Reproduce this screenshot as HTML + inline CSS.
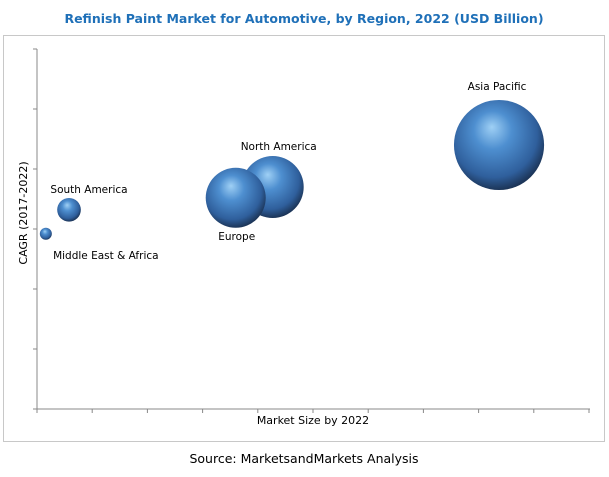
<!DOCTYPE html>
<html><head><meta charset="utf-8"><style>
body{margin:0;background:#fff;width:609px;height:473px;overflow:hidden;font-family:"DejaVu Sans","Liberation Sans",sans-serif}
</style></head><body>
<svg width="609" height="473" xmlns="http://www.w3.org/2000/svg">
<defs>
<radialGradient id="g" cx="0.45" cy="0.4" r="0.6" fx="0.42" fy="0.3">
<stop offset="0" stop-color="#9fd0f5"/><stop offset="0.35" stop-color="#4e8fd0"/><stop offset="0.8" stop-color="#2f5f9c"/><stop offset="1" stop-color="#1c3558"/>
</radialGradient>
</defs>
<text x="304" y="23" text-anchor="middle" font-size="12.5" font-weight="bold" fill="#1f70b8">Refinish Paint Market for Automotive, by Region, 2022 (USD Billion)</text>
<rect x="3.5" y="35.5" width="601" height="406" fill="none" stroke="#c8c8c8"/>
<g id="axes"></g>
<g id="marks"></g>
<text x="313" y="424" text-anchor="middle" font-size="11" fill="#000">Market Size by 2022</text>
<text transform="translate(27,213) rotate(-90)" text-anchor="middle" font-size="11" fill="#000">CAGR (2017-2022)</text>
<text x="304" y="463" text-anchor="middle" font-size="12.5" fill="#000">Source: MarketsandMarkets Analysis</text>
</svg>
<script>
const regions=["Asia Pacific","North America","Europe","South America","Middle East & Africa"];
const marketSize=[8.37,4.27,3.6,0.58,0.16];
const cagr=[4.4,3.7,3.52,3.32,2.92];
const bubbleSize=[20.3,9.6,9.0,1.4,0.36];
const labelDx=[-2,6,1,20,60];
const labelDy=[-55,-37,42,-17,25];
const ns="http://www.w3.org/2000/svg";
const X0=37,X1=589,Y0=409,Y1=49;
const xs=v=>X0+v/10*(X1-X0);
const ys=v=>Y0-v/6*(Y0-Y1);
const rs=s=>10*Math.sqrt(s);
const ax=document.getElementById('axes'),mk=document.getElementById('marks');
function el(t,a,p){const e=document.createElementNS(ns,t);for(const k in a)e.setAttribute(k,a[k]);p.appendChild(e);return e;}
const ya=el('line',{x1:X0,y1:Y1,x2:X0,y2:Y0,stroke:'#888'},ax);


const xa=el('line',{x1:X0,y1:Y0,x2:X1+1,y2:Y0,stroke:'#888'},ax);


for(let i=0;i<=6;i++){const t=el('line',{x1:X0-4,y1:ys(i),x2:X0,y2:ys(i),stroke:'#888'},ax);

}
for(let i=0;i<=10;i++){const t=el('line',{x1:xs(i),y1:Y0,x2:xs(i),y2:Y0+4,stroke:'#888'},ax);

}
regions.forEach((r,i)=>{
const cx=xs(marketSize[i]),cy=ys(cagr[i]);
const c=el('circle',{cx:cx,cy:cy,r:rs(bubbleSize[i]),fill:'url(#g)'},mk);


const t=el('text',{x:cx+labelDx[i],y:cy+labelDy[i],'text-anchor':'middle','font-size':'10.5',fill:'#000'},mk);
t.textContent=r;


});
</script>
</body></html>
